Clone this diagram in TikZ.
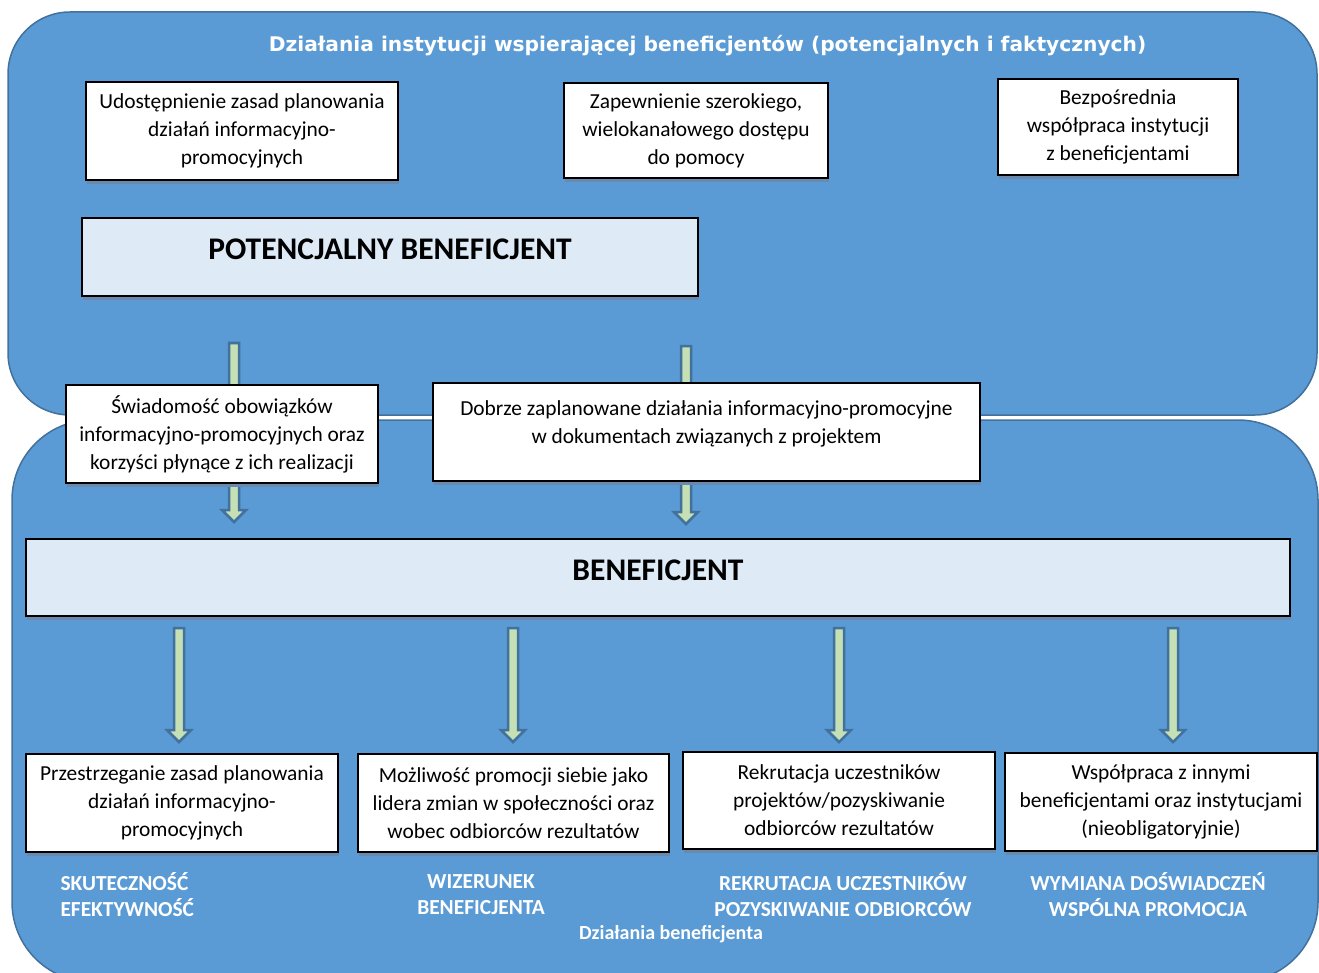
\documentclass[tikz,border=0pt]{standalone}
\usepackage{fontspec}
\setmainfont{Carlito}
\newfontfamily\titlefont{DejaVu Sans}
\usetikzlibrary{calc,shadows}

\definecolor{panelblue}{HTML}{5B9BD5}
\definecolor{panelborder}{HTML}{41719C}
\definecolor{lightbox}{HTML}{DEEBF7}
\definecolor{arrowgreen}{HTML}{C5E0B4}
\definecolor{arrowborder}{HTML}{41719C}
\definecolor{boxshadow}{HTML}{6A89AC}

\tikzset{
  panel/.style={draw=panelborder, line width=1.5pt, fill=panelblue},
  infobox/.style={draw=black, line width=1.8pt, fill=white, align=center, inner sep=0pt,
    font=\fontsize{21.4}{28}\selectfont,
    drop shadow={shadow xshift=1pt, shadow yshift=-4pt, fill=boxshadow, opacity=1}},
  headbox/.style={infobox, fill=lightbox, font=\fontsize{31.5}{34}\selectfont\bfseries,
    text height=21pt, text depth=15pt},
  whitelabel/.style={text=white, font=\fontsize{21.4}{26}\selectfont\bfseries},
  arrowbody/.style={draw=arrowborder, line width=2.5pt, fill=arrowgreen, line join=miter}
}

% block arrow from #1 (top of shaft) to #2 (tip)
\newcommand{\blockarrow}[2]{%
  \draw[arrowbody] ($(#1)+(-5,0)$) -- ($(#2)+(-5,-12)$) -- ($(#2)+(-12,-12)$) -- (#2)
    -- ($(#2)+(12,-12)$) -- ($(#2)+(5,-12)$) -- ($(#1)+(5,0)$) -- cycle;}

\begin{document}
\begin{tikzpicture}[x=1pt,y=-1pt]

 \useasboundingbox (0,0) rectangle (1319,973);

 % Two panels
 \draw[panel, rounded corners=62pt] (8,12) rectangle (1317,415);
 \draw[panel, rounded corners=80pt] (12,420) rectangle (1318,982);

 \node[whitelabel, font=\titlefont\fontsize{20.2}{24}\selectfont\bfseries] (ltitle) at (707.5,46)
   {Działania instytucji wspierającej beneficjentów (potencjalnych i faktycznych)};

 % Arrow ends
 \coordinate (a1s) at (234,343);
 \coordinate (a1e) at (234,522);
 \coordinate (a2s) at (686,346);
 \coordinate (a2e) at (686,524);
 \blockarrow{a1s}{a1e}
 \blockarrow{a2s}{a2e}

 % Arrows below the beneficiary
 \foreach \xa/\name in {179/b1, 513/b2, 839/b3, 1173/b4} {
   \coordinate (\name s) at (\xa,628);
   \coordinate (\name e) at (\xa,742);
   \blockarrow{\name s}{\name e}
 }

 % Institution actions
 \node[infobox, minimum width=312pt, minimum height=98pt] (udost) at (242,131)
   {Udostępnienie zasad planowania\\działań informacyjno-\\promocyjnych};
 \node[infobox, minimum width=264pt, minimum height=95pt] (zapew) at (696,130.5)
   {Zapewnienie szerokiego,\\wielokanałowego dostępu\\do pomocy};
 \node[infobox, minimum width=240pt, minimum height=96pt] (bezpo) at (1118,127)
   {Bezpośrednia\\współpraca instytucji\\z beneficjentami};

 \node[headbox, minimum width=616pt, minimum height=78pt] (potben) at (390,257)
   {POTENCJALNY BENEFICJENT};

 % Results for the beneficiary
 \node[infobox, minimum width=312pt, minimum height=98pt] (swiad) at (222,434)
   {Świadomość obowiązków\\informacyjno-promocyjnych oraz\\korzyści płynące z ich realizacji};
 \node[infobox, minimum width=547pt, minimum height=98pt, text depth=19pt] (dobrze) at (706.5,432)
   {Dobrze zaplanowane działania informacyjno-promocyjne\\w dokumentach związanych z projektem};

 \node[headbox, minimum width=1264pt, minimum height=77pt] (benef) at (658,577.5)
   {BENEFICJENT};

 % Beneficiary actions
 \node[infobox, minimum width=312pt, minimum height=98pt] (przestrz) at (182,803)
   {Przestrzeganie zasad planowania\\działań informacyjno-\\promocyjnych};
 \node[infobox, minimum width=311pt, minimum height=98pt] (mozliw) at (513.5,803)
   {Możliwość promocji siebie jako\\lidera zmian w społeczności oraz\\wobec odbiorców rezultatów};
 \node[infobox, minimum width=312pt, minimum height=97pt] (rekrut) at (839,800.5)
   {Rekrutacja uczestników\\projektów/pozyskiwanie\\odbiorców rezultatów};
 \node[infobox, minimum width=312pt, minimum height=98pt] (wspolp) at (1161,802)
   {Współpraca z innymi\\beneficjentami oraz instytucjami\\(nieobligatoryjnie)};

 % Effects
 \node[whitelabel, align=left, anchor=west] (lskut) at (57,895) {SKUTECZNOŚĆ\\EFEKTYWNOŚĆ};
 \node[whitelabel, align=center] (lwiz) at (481,895) {WIZERUNEK\\BENEFICJENTA};
 \node[whitelabel, align=center] (lrek) at (843,895) {REKRUTACJA UCZESTNIKÓW\\POZYSKIWANIE ODBIORCÓW};
 \node[whitelabel, align=center] (lwym) at (1148,895) {WYMIANA DOŚWIADCZEŃ\\WSPÓLNA PROMOCJA};
 \node[whitelabel, font=\fontsize{20}{22}\selectfont\bfseries] (ldzb) at (671,934) {Działania beneficjenta};

\end{tikzpicture}
\end{document}
